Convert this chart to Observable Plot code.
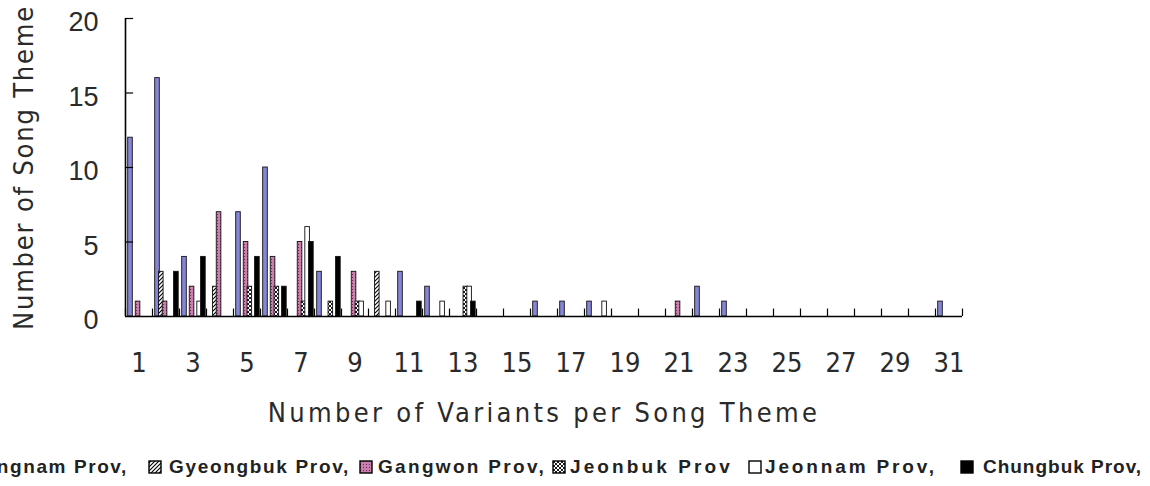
<!DOCTYPE html>
<html>
<head>
<meta charset="utf-8">
<script src="https://cdn.jsdelivr.net/npm/d3@7"></script>
<script src="https://cdn.jsdelivr.net/npm/@observablehq/plot@0.6"></script>
<style>
  html, body { margin: 0; padding: 0; background: #fff; }
  #wrap { width: 1150px; height: 486px; position: relative; overflow: hidden; }
  #legend { position: relative; width: 1150px; height: 46px; overflow: hidden;
    font-family: "Liberation Sans", Arial, sans-serif; font-weight: bold; font-size: 19px;
    color: #222; }
  .item { position: absolute; top: 16px; display: flex; align-items: center; white-space: nowrap; }
  .item svg { flex: none; }
</style>
</head>
<body>
<svg width="0" height="0" style="position:absolute">
  <defs>
    <pattern id="pat-diag" patternUnits="userSpaceOnUse" width="4" height="4">
      <rect width="4" height="4" fill="#fff"/>
      <path d="M-1,1 l2,-2 M0,4 l4,-4 M3,5 l2,-2" stroke="#000" stroke-width="1.1"/>
    </pattern>
    <pattern id="pat-cross" patternUnits="userSpaceOnUse" width="4" height="4">
      <rect width="4" height="4" fill="#fff"/>
      <path d="M0,0 l4,4 M4,0 l-4,4" stroke="#000" stroke-width="0.9"/>
    </pattern>
    <pattern id="pat-pink" patternUnits="userSpaceOnUse" width="3" height="3">
      <rect width="3" height="3" fill="#c97fae"/>
      <rect x="1" y="1" width="1" height="1" fill="#7a1f4f"/>
    </pattern>
  </defs>
</svg>
<div id="wrap">
  <div id="chart"></div>
  <div id="legend"></div>
</div>
<script>
// ---- data ----
const categories = [1,2,3,4,5,6,7,8,9,10,11,12,13,14,15,16,17,18,19,20,21,22,23,24,25,26,27,28,29,30,31];
const seriesNames = ["Gyeongnam Prov,", "Gyeongbuk Prov,", "Gangwon Prov,", "Jeonbuk Prov", "Jeonnam Prov,", "Chungbuk Prov,"];
const gyeongnam = [12,16,4,0,7,10,0,3,0,0,3,2,0,0,0,1,1,1,0,0,0,2,1,0,0,0,0,0,0,0,1];
const gyeongbuk = [0,3,0,2,0,0,0,0,0,3,0,0,0,0,0,0,0,0,0,0,0,0,0,0,0,0,0,0,0,0,0];
const gangwon   = [1,1,2,7,5,4,5,0,3,0,0,0,0,0,0,0,0,0,0,0,1,0,0,0,0,0,0,0,0,0,0];
const jeonbuk   = [0,0,0,0,2,2,1,1,1,0,0,0,2,0,0,0,0,0,0,0,0,0,0,0,0,0,0,0,0,0,0];
const jeonnam   = [0,0,1,0,0,0,6,0,1,1,0,1,2,0,0,0,0,1,0,0,0,0,0,0,0,0,0,0,0,0,0];
const chungbuk  = [0,3,4,0,4,2,5,4,0,0,1,0,1,0,0,0,0,0,0,0,0,0,0,0,0,0,0,0,0,0,0];
const xTickLabels = [1,3,5,7,9,11,13,15,17,19,21,23,25,27,29,31];
const yTickLabels = [0,5,10,15,20];
const xTitle = "Number of Variants per Song Theme";
const yTitle = "Number of Song Theme";

// ---- styles ----
const fills = ["#8686d8", "url(#pat-diag)", "url(#pat-pink)", "url(#pat-cross)", "#ffffff", "#000000"];
const seriesValues = [gyeongnam, gyeongbuk, gangwon, jeonbuk, jeonnam, chungbuk];

const rows = [];
seriesValues.forEach((vals, i) => {
  vals.forEach((v, j) => {
    if (v > 0) rows.push({cat: categories[j], idx: i, series: seriesNames[i], value: v, fill: fills[i]});
  });
});
const slotStart = 0.1, slotStep = 0.14, barW = 0.17;
const boundaries = categories.map(c => c - 0.5).concat([categories[categories.length - 1] + 0.5]);

const textColor = "#2a2a2a";
const chart = Plot.plot({
  width: 1150,
  height: 440,
  marginLeft: 125,
  marginRight: 188,
  marginTop: 18,
  marginBottom: 124,
  style: {fontFamily: "'Liberation Sans Narrow', 'DejaVu Sans Condensed', sans-serif", color: textColor, background: "#fff"},
  x: {domain: [0.5, 31.5]},
  y: {domain: [0, 20]},
  color: {type: "identity"},
  marks: [
    Plot.rect(rows, {
      x1: d => d.cat - 0.5 + slotStart + d.idx * slotStep,
      x2: d => d.cat - 0.5 + slotStart + d.idx * slotStep + barW,
      y1: 0, y2: "value",
      fill: "fill", stroke: "#111", strokeWidth: 0.9
    }),
    Plot.ruleX(boundaries, {y1: 0, y2: 0.5, stroke: "#000", strokeWidth: 1.2}),
    Plot.ruleY(yTickLabels.slice(1), {x1: 0.5, x2: 0.8, stroke: "#000", strokeWidth: 1.2}),
    Plot.ruleX([0.5], {y1: 0, y2: 20, stroke: "#000", strokeWidth: 1.6}),
    Plot.ruleY([0], {x1: 0.5, x2: 31.5, stroke: "#000", strokeWidth: 1.6}),
    Plot.axisX({ticks: xTickLabels, tickSize: 0, tickPadding: 36, label: null, fontSize: 27, fill: textColor,
      tickFormat: d => String(d)}),
    Plot.axisY({ticks: yTickLabels, tickSize: 0, tickPadding: 27, label: null, fontSize: 27, dy: 4, fill: textColor,
      fontFamily: "'Liberation Sans', Arial, sans-serif"}),
    Plot.text([xTitle], {frameAnchor: "bottom", textAnchor: "middle", lineAnchor: "middle", dy: 97, fontSize: 27, fill: textColor}),
    Plot.text([yTitle], {frameAnchor: "left", textAnchor: "middle", lineAnchor: "middle", dx: -101, rotate: -90, fontSize: 27, fill: textColor})
  ]
});
document.getElementById("chart").appendChild(chart);
// letter spacing for titles
chart.querySelectorAll("text").forEach(t => {
  if (t.textContent === xTitle) t.setAttribute("letter-spacing", "3.3");
  if (t.textContent === yTitle) t.setAttribute("letter-spacing", "1.8");
});

// ---- legend ----
const legend = document.getElementById("legend");
const legendLeft = [null, 148, 359, 552, 748, 960];
const legendGap = [7, 7, 5, 4, 3, 9];
const legendTextWidth = [185, 181, 168, 163, 172, 159];
seriesNames.forEach((name, i) => {
  const item = document.createElement("div");
  item.className = "item";
  const sym = `<svg width="14" height="14" style="margin-right:${legendGap[i]}px"><rect x="1" y="1" width="12" height="12" fill="${fills[i]}" stroke="#000" stroke-width="1.4"/></svg>`;
  item.innerHTML = sym + `<span>${name}</span>`;
  if (legendLeft[i] === null) item.style.right = (1150 - 128) + "px";
  else item.style.left = legendLeft[i] + "px";
  legend.appendChild(item);
  const span = item.querySelector("span");
  const natural = span.getBoundingClientRect().width;
  const ls = Math.max(0, (legendTextWidth[i] - natural) / name.length);
  span.style.letterSpacing = ls.toFixed(2) + "px";
});
</script>
</body>
</html>
